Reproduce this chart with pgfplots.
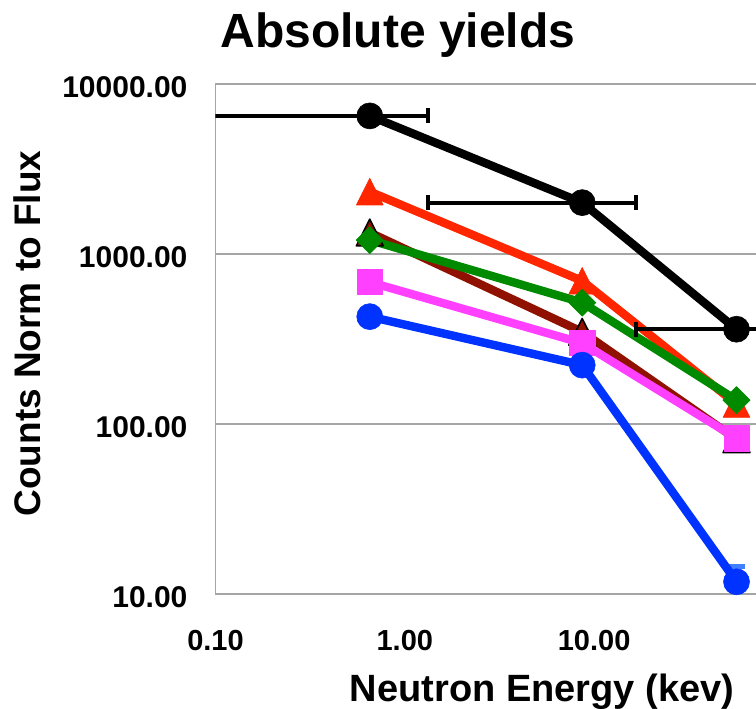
\documentclass[border=0pt]{standalone}
\usepackage{fontspec}
\setmainfont{Liberation Sans}
\usepackage{pgfplots}
\pgfplotsset{compat=1.18}
\usetikzlibrary{calc}

\definecolor{serRed}{RGB}{255,38,0}
\definecolor{serDarkRed}{RGB}{145,17,0}
\definecolor{serGreen}{RGB}{0,138,0}
\definecolor{serMagenta}{RGB}{255,64,255}
\definecolor{serBlue}{RGB}{0,51,255}
\definecolor{errBlue}{RGB}{64,128,255}
\definecolor{gridGray}{RGB}{165,165,165}

\begin{document}
\begin{tikzpicture}
\begin{axis}[
  scale only axis, width=270.25pt, height=255pt,
  xmode=log, ymode=log,
  xmin=0.1, xmax=71.6, ymin=10, ymax=10000,
  axis x line*=bottom, axis y line*=left,
  axis line style={gridGray, line width=0.8pt, -},
  ymajorgrids, major grid style={gridGray, line width=0.8pt},
  major tick length=0pt, minor tick length=0pt,
  xtick={0.1,1,10}, xticklabels={0.10,1.00,10.00},
  ytick={10,100,1000,10000}, yticklabels={10.00,100.00,1000.00,10000.00},
  /pgf/number format/assume math mode=true,
  xticklabel shift=14.5pt,
  xticklabel style={font=\fontsize{14.5}{17}\selectfont\bfseries, anchor=north},
  yticklabel style={font=\fontsize{15}{18}\selectfont\bfseries, xshift=-10.5pt, yshift=-1.5pt},
  every axis plot/.append style={line width=4.2pt, line join=round},
]
% dark red: triangles with black outline
\addplot[serDarkRed, mark=triangle*, mark size=8.9pt,
  mark options={solid, fill=serDarkRed, draw=black, line width=0.8pt, xscale=0.87, yshift=-2.2pt}]
  coordinates {(0.653,1337) (8.65,348) (56.5,81.3)};
% red triangles
\addplot[serRed, mark=triangle*, mark size=8.9pt,
  mark options={solid, fill=serRed, line width=0.3pt, xscale=0.87, yshift=-2.2pt}]
  coordinates {(0.653,2326) (8.65,695) (56.5,131)};
% magenta squares
\addplot[serMagenta, mark=square*, mark size=6.3pt,
  mark options={solid, fill=serMagenta, line width=0.3pt}]
  coordinates {(0.653,684) (8.65,299) (56.5,82.4)};
% upper error bar on the last blue point
\addplot[errBlue, mark=none, line width=2.5pt,
  error bars/.cd, y dir=plus, y explicit,
  error bar style={errBlue, line width=2.5pt},
  error mark options={errBlue, rotate=90, line width=2.5pt, mark size=4.25pt}]
  coordinates {(56.5,11.8) += (0,2.7)};
% blue circles
\addplot[serBlue, mark=*, mark size=6.5pt,
  mark options={solid, fill=serBlue, line width=0.3pt}]
  coordinates {(0.653,428) (8.65,222) (56.5,11.8)};
% green diamonds
\addplot[serGreen, mark=square*, mark size=4.8pt,
  mark options={solid, fill=serGreen, line width=0.3pt, rotate=45}]
  coordinates {(0.653,1208) (8.65,518) (56.5,138)};
% energy-bin widths of the black series
\addplot[black, mark=none, draw=none,
  error bars/.cd, x dir=both, x explicit,
  error bar style={black, line width=2pt},
  error mark options={black, rotate=90, line width=2pt, mark size=3.75pt}]
  coordinates {(0.653,6490) += (0.677,0) -= (0.603,0)
               (8.65,2005) += (8.05,0) -= (7.32,0)
               (56.5,361) += (93.5,0) -= (39.8,0)};
% black circles
\addplot[black, mark=*, mark size=6.5pt,
  mark options={solid, fill=black, line width=0.3pt}]
  coordinates {(0.653,6490) (8.65,2005) (56.5,361)};

\coordinate (SW) at (rel axis cs:0,0);
\coordinate (NE) at (rel axis cs:1,1);
\end{axis}

\node[anchor=base, font=\fontsize{24}{28}\selectfont\bfseries]
  at ($(SW|-NE)+(91.25pt,18pt)$) {Absolute yields};
\node[anchor=base, font=\fontsize{19}{23}\selectfont\bfseries]
  at ($(SW)+(163.25pt,-53.85pt)$) {Neutron Energy (kev)};
\node[anchor=base, rotate=90, font=\fontsize{18.5}{22}\selectfont\bfseries]
  at ($(SW)+(-87.25pt,130.25pt)$) {Counts Norm to Flux};

\pgfresetboundingbox
\path[use as bounding box] ($(SW)+(-107.75pt,-57pt)$) rectangle ($(NE)+(0pt,42pt)$);
\end{tikzpicture}
\end{document}
